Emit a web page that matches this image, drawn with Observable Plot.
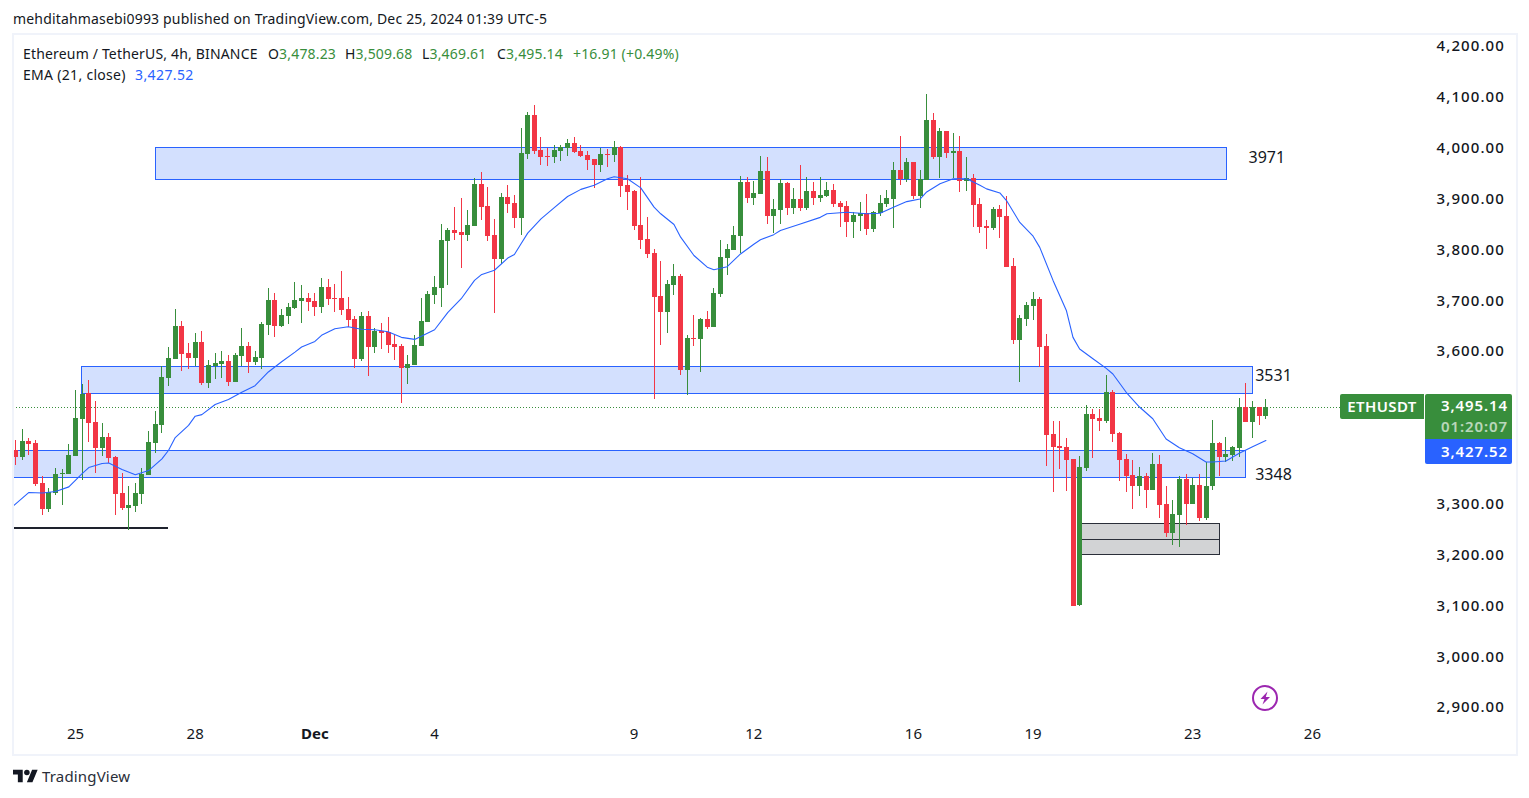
<!DOCTYPE html>
<html>
<head>
<meta charset="utf-8">
<script src="https://cdn.jsdelivr.net/npm/d3@7"></script>
<script src="https://cdn.jsdelivr.net/npm/@observablehq/plot@0.6"></script>
<style>
  html,body{margin:0;padding:0;background:#fff;width:1529px;height:798px;overflow:hidden;}
  body{font-family:"Noto Sans",sans-serif;color:#131722;position:relative;}
  #head{height:34px;position:relative;}
  #foot{height:44px;position:relative;}
  #chart{height:720px;}
  #chart svg{display:block;}
  .t{position:absolute;white-space:nowrap;font-size:14px;line-height:18px;letter-spacing:.17px;}
  .g{color:#388e3c}.b{color:#2962ff}
  #pane{position:absolute;left:12px;top:33px;width:1502px;height:719px;border:2px solid #f0f3fa;pointer-events:none;}
  .tag{position:absolute;color:#fff;font-weight:600;font-size:15px;box-sizing:border-box;letter-spacing:.9px;}
  .pr{text-align:right;padding-right:4px;}
</style>
</head>
<body>
<script>
const open = [3406,3391,3423,3419,3341,3290,3321,3359,3358,3394,
3467,3517,3461,3410,3431,3392,3321,3292,3296,3319,
3356,3419,3455,3547,3585,3650,3596,3587,3618,3537,
3571,3575,3581,3539,3591,3610,3579,3587,3651,3700,
3649,3669,3685,3698,3704,3698,3687,3726,3704,3704,
3683,3663,3584,3669,3608,3639,3637,3614,3610,3567,
3572,3610,3657,3710,3724,3816,3838,3834,3828,3846,
3928,3885,3828,3781,3903,3891,3862,3988,4064,3995,
3984,3982,3993,3999,4009,3993,3986,3978,3966,3988,
3986,4001,3927,3915,3848,3820,3793,3708,3677,3730,
3748,3563,3625,3624,3663,3647,3712,3783,3799,3826,
3933,3901,3909,3954,3866,3878,3931,3881,3899,3881,
3915,3901,3905,3917,3891,3885,3854,3866,3872,3840,
3872,3889,3899,3956,3938,3972,3905,3937,4054,3982,
4033,3990,3994,3935,3940,3889,3846,3842,3879,3866,
3767,3622,3663,3689,3702,3610,3437,3413,3411,3388,
3101,3370,3476,3468,3462,3520,3439,3388,3356,3335,
3354,3327,3378,3299,3242,3278,3348,3299,3337,3272,
3335,3419,3392,3396,3409,3490,3461,3490,3473];
const high = [3425,3447,3429,3425,3355,3331,3370,3368,3417,3524,
3535,3543,3502,3459,3439,3394,3360,3335,3341,3370,
3443,3482,3571,3608,3683,3659,3616,3636,3640,3583,
3596,3600,3592,3596,3646,3618,3600,3657,3724,3714,
3683,3694,3736,3730,3714,3714,3744,3742,3732,3757,
3706,3669,3677,3679,3645,3655,3667,3631,3614,3592,
3631,3704,3718,3747,3850,3842,3883,3901,3877,3940,
3952,3923,3860,3911,3926,3907,4039,4070,4084,4021,
3999,4005,4005,4017,4021,4005,3993,3978,3999,3997,
4013,4003,3946,3917,3942,3864,3801,3777,3740,3771,
3752,3632,3671,3665,3679,3724,3818,3811,3846,3944,
3942,3934,3984,3982,3899,3938,3933,3921,3966,3942,
3933,3942,3933,3929,3895,3895,3874,3893,3909,3876,
3907,3917,3972,4023,3980,3972,3956,4106,4068,4039,
4033,4029,4023,3982,3948,3901,3858,3883,3887,3905,
3783,3671,3697,3716,3706,3634,3463,3463,3429,3388,
3394,3494,3486,3486,3553,3523,3441,3398,3386,3372,
3360,3400,3396,3335,3307,3354,3358,3350,3358,3382,
3464,3421,3431,3413,3508,3537,3502,3490,3506];
const low = [3376,3386,3396,3335,3278,3284,3317,3298,3358,3394,
3347,3421,3360,3394,3380,3278,3288,3248,3284,3300,
3356,3400,3439,3532,3585,3561,3565,3571,3534,3528,
3545,3547,3532,3539,3571,3557,3573,3565,3632,3628,
3647,3653,3683,3655,3679,3669,3675,3690,3677,3671,
3647,3567,3580,3551,3596,3604,3596,3582,3498,3535,
3572,3610,3657,3692,3687,3730,3818,3763,3816,3846,
3858,3816,3675,3771,3871,3842,3828,3978,3988,3966,
3964,3970,3974,3984,3990,3982,3956,3921,3952,3962,
3972,3903,3877,3838,3801,3783,3506,3612,3636,3710,
3553,3514,3610,3559,3643,3647,3706,3750,3799,3793,
3891,3887,3909,3850,3832,3850,3868,3870,3876,3878,
3887,3893,3903,3883,3844,3824,3822,3836,3828,3834,
3866,3883,3842,3927,3933,3899,3881,3937,3978,3940,
3980,3940,3913,3915,3844,3832,3801,3838,3822,3765,
3614,3539,3649,3661,3569,3374,3323,3368,3325,3099,
3099,3364,3390,3443,3459,3421,3345,3323,3289,3315,
3291,3327,3272,3234,3219,3215,3258,3299,3266,3268,
3327,3354,3382,3384,3392,3461,3429,3455,3466];
const close = [3391,3423,3418,3339,3290,3323,3358,3360,3396,3469,
3516,3459,3410,3431,3390,3319,3292,3298,3321,3358,
3421,3457,3549,3587,3650,3594,3587,3618,3537,3573,
3577,3581,3539,3593,3610,3579,3589,3653,3701,3649,
3671,3687,3700,3704,3696,3687,3726,3702,3703,3681,
3661,3584,3669,3608,3639,3635,3612,3608,3567,3574,
3612,3659,3712,3726,3818,3838,3832,3828,3848,3928,
3883,3826,3781,3903,3889,3862,3990,4064,3993,3982,
3982,3995,4001,4009,3992,3984,3976,3966,3988,3986,
4001,3925,3913,3846,3818,3791,3706,3677,3732,3748,
3563,3626,3624,3663,3647,3714,3785,3801,3828,3933,
3901,3911,3954,3866,3879,3931,3881,3899,3881,3915,
3901,3907,3917,3889,3883,3854,3868,3872,3840,3874,
3891,3901,3956,3938,3972,3905,3938,4054,3982,4033,
3990,3994,3935,3940,3887,3844,3842,3879,3864,3765,
3622,3665,3691,3702,3608,3435,3411,3409,3386,3099,
3372,3476,3466,3462,3520,3437,3386,3354,3335,3354,
3327,3378,3297,3242,3280,3348,3299,3337,3272,3335,
3419,3392,3398,3411,3491,3461,3490,3473,3491];

const emaBar = [-0.3,2,4,6,8,10,11,13,14,16,18,20,22,23,24,26,27,28,30,32,34,36,38,40,42,43,45,46,48,50,52,54,56,58,60,61,63,65,67,69,70,72,74,75,76,77,79,81,83,85,87,89,90,92,94,96,97,99,100,102,104,105,107,109,111,112,114,115,118,121,122,125,128,130,132,134,136,137,139,141,143,145,146,148,149,151,153,154,156,158,159,160,162,164,165,167,169,171,173,175,177,179,180,182,184,186,188];
const emaVal = [3297,3323,3322,3325,3334,3360,3372,3380,3381,3368,3358,3366,3389,3406,3431,3455,3473,3476,3496,3506,3520,3533,3560,3580,3599,3609,3620,3632,3645,3649,3644,3643,3639,3628,3624,3630,3643,3677,3704,3740,3751,3760,3784,3791,3812,3833,3861,3883,3905,3919,3927,3940,3944,3940,3922,3884,3871,3850,3825,3789,3766,3761,3767,3792,3811,3820,3830,3838,3851,3864,3871,3874,3871,3872,3884,3895,3900,3914,3930,3940,3940,3927,3920,3912,3897,3854,3827,3805,3740,3681,3628,3605,3586,3567,3556,3520,3491,3468,3428,3411,3399,3383,3383,3385,3400,3413,3425];

const yTicks = [4200,4100,4000,3900,3800,3700,3600,3300,3200,3100,3000,2900];
const xTickBars = [9,27,45,63,93,111,135,153,177,195];
const xTickLabels = ["25","28","Dec","4","9","12","16","19","23","26"];

const zoneBars = [[21.15,182.1],[10,186],[-0.32,185]];
const zoneLow = [3937.5,3517,3351];
const zoneHigh = [4000.5,3570,3405];
const levelNames = ["3971","3531","3348"];
const levelBar = [185.4,186.4,186.4];
const levelPrice = [3980,3553,3358];

const grayBars = [160.3,181.1];
const grayPrices = [3199.5,3230.5,3260.5];
const swingLow = {bars:[-0.32,23], price:3253};

const lastLine = 3491;
const RED="#f23645", GREEN="#388e3c", BLUE="#2962ff";

const bars = open.map((o,i)=>({i,o,h:high[i],l:low[i],c:close[i]}));
const ema = emaBar.map((b,i)=>({b,v:emaVal[i]}));
const zones = zoneBars.map((b,i)=>({x1:b[0],x2:b[1],y1:zoneLow[i],y2:zoneHigh[i]}));
const levels = levelNames.map((n,i)=>({n,x:levelBar[i],y:levelPrice[i]}));
const colour = d => d.c>=d.o ? GREEN : RED;
const fontFamily = '"Noto Sans",sans-serif';

const chart = Plot.plot({
  width:1529, height:720,
  marginLeft:13, marginRight:105, marginTop:0, marginBottom:32,
  style:{fontFamily, background:"#fff", color:"#131722", overflow:"visible"},
  x:{type:"linear", domain:[-0.323,211.857]},
  y:{type:"linear", domain:[2870.6,4223.6]},
  marks:[
    Plot.rect(zones,{x1:"x1",x2:"x2",y1:"y1",y2:"y2",fill:"#d3e0fe",stroke:BLUE,strokeWidth:1,shapeRendering:"crispEdges"}),
    Plot.rect([{x1:grayBars[0],x2:grayBars[1],y1:grayPrices[0],y2:grayPrices[2]}],{x1:"x1",x2:"x2",y1:"y1",y2:"y2",fill:"#d2d3d5",stroke:"#2a2e39",strokeWidth:1,shapeRendering:"crispEdges"}),
    Plot.ruleY([grayPrices[1]],{x1:grayBars[0],x2:grayBars[1],stroke:"#2a2e39",strokeWidth:1,shapeRendering:"crispEdges"}),
    Plot.ruleY([swingLow.price],{x1:swingLow.bars[0],x2:swingLow.bars[1],stroke:"#1e222d",strokeWidth:2,shapeRendering:"crispEdges"}),
    Plot.ruleY([lastLine],{x1:-0.32,x2:199.4,stroke:GREEN,strokeWidth:1,strokeDasharray:"1,2",shapeRendering:"crispEdges"}),
    Plot.ruleX(bars,{x:"i",y1:"l",y2:"h",stroke:colour,strokeWidth:1,shapeRendering:"crispEdges"}),
    Plot.ruleX(bars,{x:"i",y1:"o",y2:"c",stroke:colour,strokeWidth:5,shapeRendering:"crispEdges"}),
    Plot.line(ema,{x:"b",y:"v",stroke:BLUE,strokeWidth:1.1}),
    Plot.text(levels,{x:"x",y:"y",text:"n",textAnchor:"start",fontSize:16,fill:"#131722"}),
    Plot.axisX({ticks:xTickBars,tickSize:0,tickPadding:6,fontSize:15,label:null,
      tickFormat:d=>xTickLabels[xTickBars.indexOf(d)]}),
    Plot.axisY({anchor:"right",ticks:yTicks,tickSize:0,tickPadding:12,fontSize:15,label:null,
      tickFormat:d=>d3.format(",.2f")(d)})
  ]
});

const head = document.createElement("div"); head.id="head";
head.innerHTML = `<div class="t" style="left:13px;top:10px">mehditahmasebi0993 published on TradingView.com, Dec 25, 2024 01:39 UTC-5</div>`;
document.body.append(head);
const wrap = document.createElement("div"); wrap.id="chart"; wrap.append(chart);
document.body.append(wrap);
d3.select(chart).selectAll("text").filter(function(){return this.textContent==="Dec";}).style("font-weight","700");
d3.select(chart).selectAll("text").filter(function(){return /^\d,\d{3}\.00$/.test(this.textContent);}).style("letter-spacing","1.1px").style("font-weight","500");
const foot = document.createElement("div"); foot.id="foot";
foot.innerHTML = `<svg style="position:absolute;left:13px;top:15px" width="25" height="14" viewBox="0 4 36 18"><path fill="#131722" d="M14 22H7V11H0V4h14v18zM28 22h-8l7.5-18h8L28 22z"/><circle fill="#131722" cx="20" cy="8" r="4"/></svg><div class="t" style="left:42px;top:12px;font-size:15px;line-height:20px;color:#2a2e39">TradingView</div>`;
document.body.append(foot);

const over = document.createElement("div");
over.innerHTML = `
<div id="pane"></div>
<div class="t" style="left:23px;top:45px">Ethereum / TetherUS, 4h, BINANCE</div>
<div class="t" style="left:268px;top:45px">O<span class="g">3,478.23</span></div>
<div class="t" style="left:345px;top:45px">H<span class="g">3,509.68</span></div>
<div class="t" style="left:422px;top:45px">L<span class="g">3,469.61</span></div>
<div class="t" style="left:497px;top:45px">C<span class="g">3,495.14</span></div>
<div class="t g" style="left:573px;top:45px">+16.91 (+0.49%)</div>
<div class="t" style="left:23px;top:66px;letter-spacing:.3px">EMA (21, close)</div>
<div class="t b" style="left:135px;top:66px;letter-spacing:.4px">3,427.52</div>
<div class="tag" style="left:1340px;top:394px;width:84px;height:25px;line-height:25px;text-align:center;letter-spacing:.4px;background:${GREEN};border-radius:2px 0 0 2px">ETHUSDT</div>
<div class="tag pr" style="left:1425px;top:394px;width:87px;height:45px;background:${GREEN};border-radius:2px 2px 0 0;line-height:21px;padding-top:1px">3,495.14<br><span style="opacity:.65">01:20:07</span></div>
<div class="tag pr" style="left:1425px;top:439px;width:87px;height:25px;line-height:25px;background:${BLUE};border-radius:0 0 2px 2px">3,427.52</div>
<svg style="position:absolute;left:1251px;top:684px" width="28" height="28" viewBox="0 0 28 28"><circle cx="14" cy="14" r="12" fill="none" stroke="#9c27b0" stroke-width="2"/><path fill="#9c27b0" d="M16.5 7.5 9.5 15h4l-2 5.5 7.5-7.5h-4.2z"/></svg>`;
document.body.append(over);
</script>
</body>
</html>
